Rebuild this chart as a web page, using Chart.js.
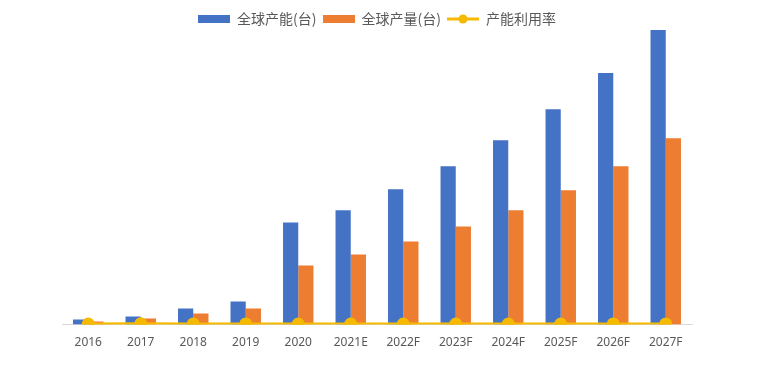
<!DOCTYPE html>
<html>
<head>
<meta charset="utf-8">
<script src="https://cdn.jsdelivr.net/npm/chart.js@4.4.1/dist/chart.umd.min.js"></script>
<style>
  html, body { margin: 0; padding: 0; background: #fff; }
  #wrap { width: 757px; height: 366px; position: relative; }
</style>
</head>
<body>
<div id="wrap"><canvas id="chart"></canvas></div>
<script>
// categories and series
const years = ["2016", "2017", "2018", "2019", "2020", "2021E", "2022F", "2023F", "2024F", "2025F", "2026F", "2027F"];
const capacity = [5, 8, 16, 23, 102, 114, 135, 158, 184, 215, 251, 294];
const output = [3, 6, 11, 16, 59, 70, 83, 98, 114, 134, 158, 186];
const utilization = [0.6, 0.75, 0.69, 0.7, 0.58, 0.61, 0.61, 0.62, 0.62, 0.62, 0.63, 0.63];

const seriesNames = ["全球产能(台)", "全球产量(台)", "产能利用率"];
const colors = ["#4472C4", "#ED7D31", "#F5BA00"];

const cjkFont = "'Noto Sans CJK SC', 'Noto Sans', sans-serif";

// small legend swatches: two boxes and a line with a dot
function swatch(kind, color) {
    const c = document.createElement("canvas");
    c.width = 32;
    c.height = 10;
    const g = c.getContext("2d");
    if (kind === "box") {
        g.fillStyle = color;
        g.fillRect(0, 1, 32, 8);
    } else {
        g.strokeStyle = color;
        g.lineWidth = 3;
        g.beginPath();
        g.moveTo(0, 5);
        g.lineTo(32, 5);
        g.stroke();
        g.fillStyle = color;
        g.beginPath();
        g.arc(16, 5, 4.5, 0, Math.PI * 2);
        g.fill();
    }
    return c;
}
const swatches = [swatch("box", colors[0]), swatch("box", colors[1]), swatch("line", colors[2])];

// pull the plot area a little closer to the legend
const legendTighten = {
    id: "legendTighten",
    beforeInit(chart) {
        const fit = chart.legend.fit;
        chart.legend.fit = function () {
            fit.call(this);
            this.height -= 6;
        };
    }
};

new Chart(document.getElementById("chart"), {
    data: {
        labels: years,
        datasets: [
            {
                type: "line",
                label: seriesNames[2],
                data: utilization,
                borderColor: colors[2],
                backgroundColor: colors[2],
                borderWidth: 3,
                pointRadius: 5,
                pointHoverRadius: 5,
                order: 0
            },
            {
                type: "bar",
                label: seriesNames[0],
                data: capacity,
                backgroundColor: colors[0],
                categoryPercentage: 0.58,
                barPercentage: 1,
                order: 1
            },
            {
                type: "bar",
                label: seriesNames[1],
                data: output,
                backgroundColor: colors[1],
                categoryPercentage: 0.58,
                barPercentage: 1,
                order: 1
            }
        ]
    },
    options: {
        responsive: true,
        maintainAspectRatio: false,
        animation: false,
        layout: { padding: { left: 62, right: 65, top: 6, bottom: 13 } },
        scales: {
            x: {
                grid: { display: false },
                border: { color: "#D9D9D9", width: 1 },
                ticks: { color: "#595959", font: { size: 12, family: "'Noto Sans', sans-serif" }, padding: 3 }
            },
            y: {
                display: false,
                min: 0,
                max: 294
            }
        },
        plugins: {
            legend: {
                position: "top",
                labels: {
                    usePointStyle: true,
                    pointStyleWidth: 32,
                    padding: 6,
                    color: "#595959",
                    font: { size: 14, family: cjkFont },
                    generateLabels: () => [0, 1, 2].map(i => ({
                        text: seriesNames[i],
                        pointStyle: swatches[i],
                        fillStyle: colors[i],
                        strokeStyle: colors[i],
                        lineWidth: 0,
                        hidden: false,
                        datasetIndex: i === 2 ? 0 : i + 1,
                        fontColor: "#595959"
                    }))
                }
            },
            tooltip: { enabled: false }
        }
    },
    plugins: [legendTighten]
});
</script>
</body>
</html>
